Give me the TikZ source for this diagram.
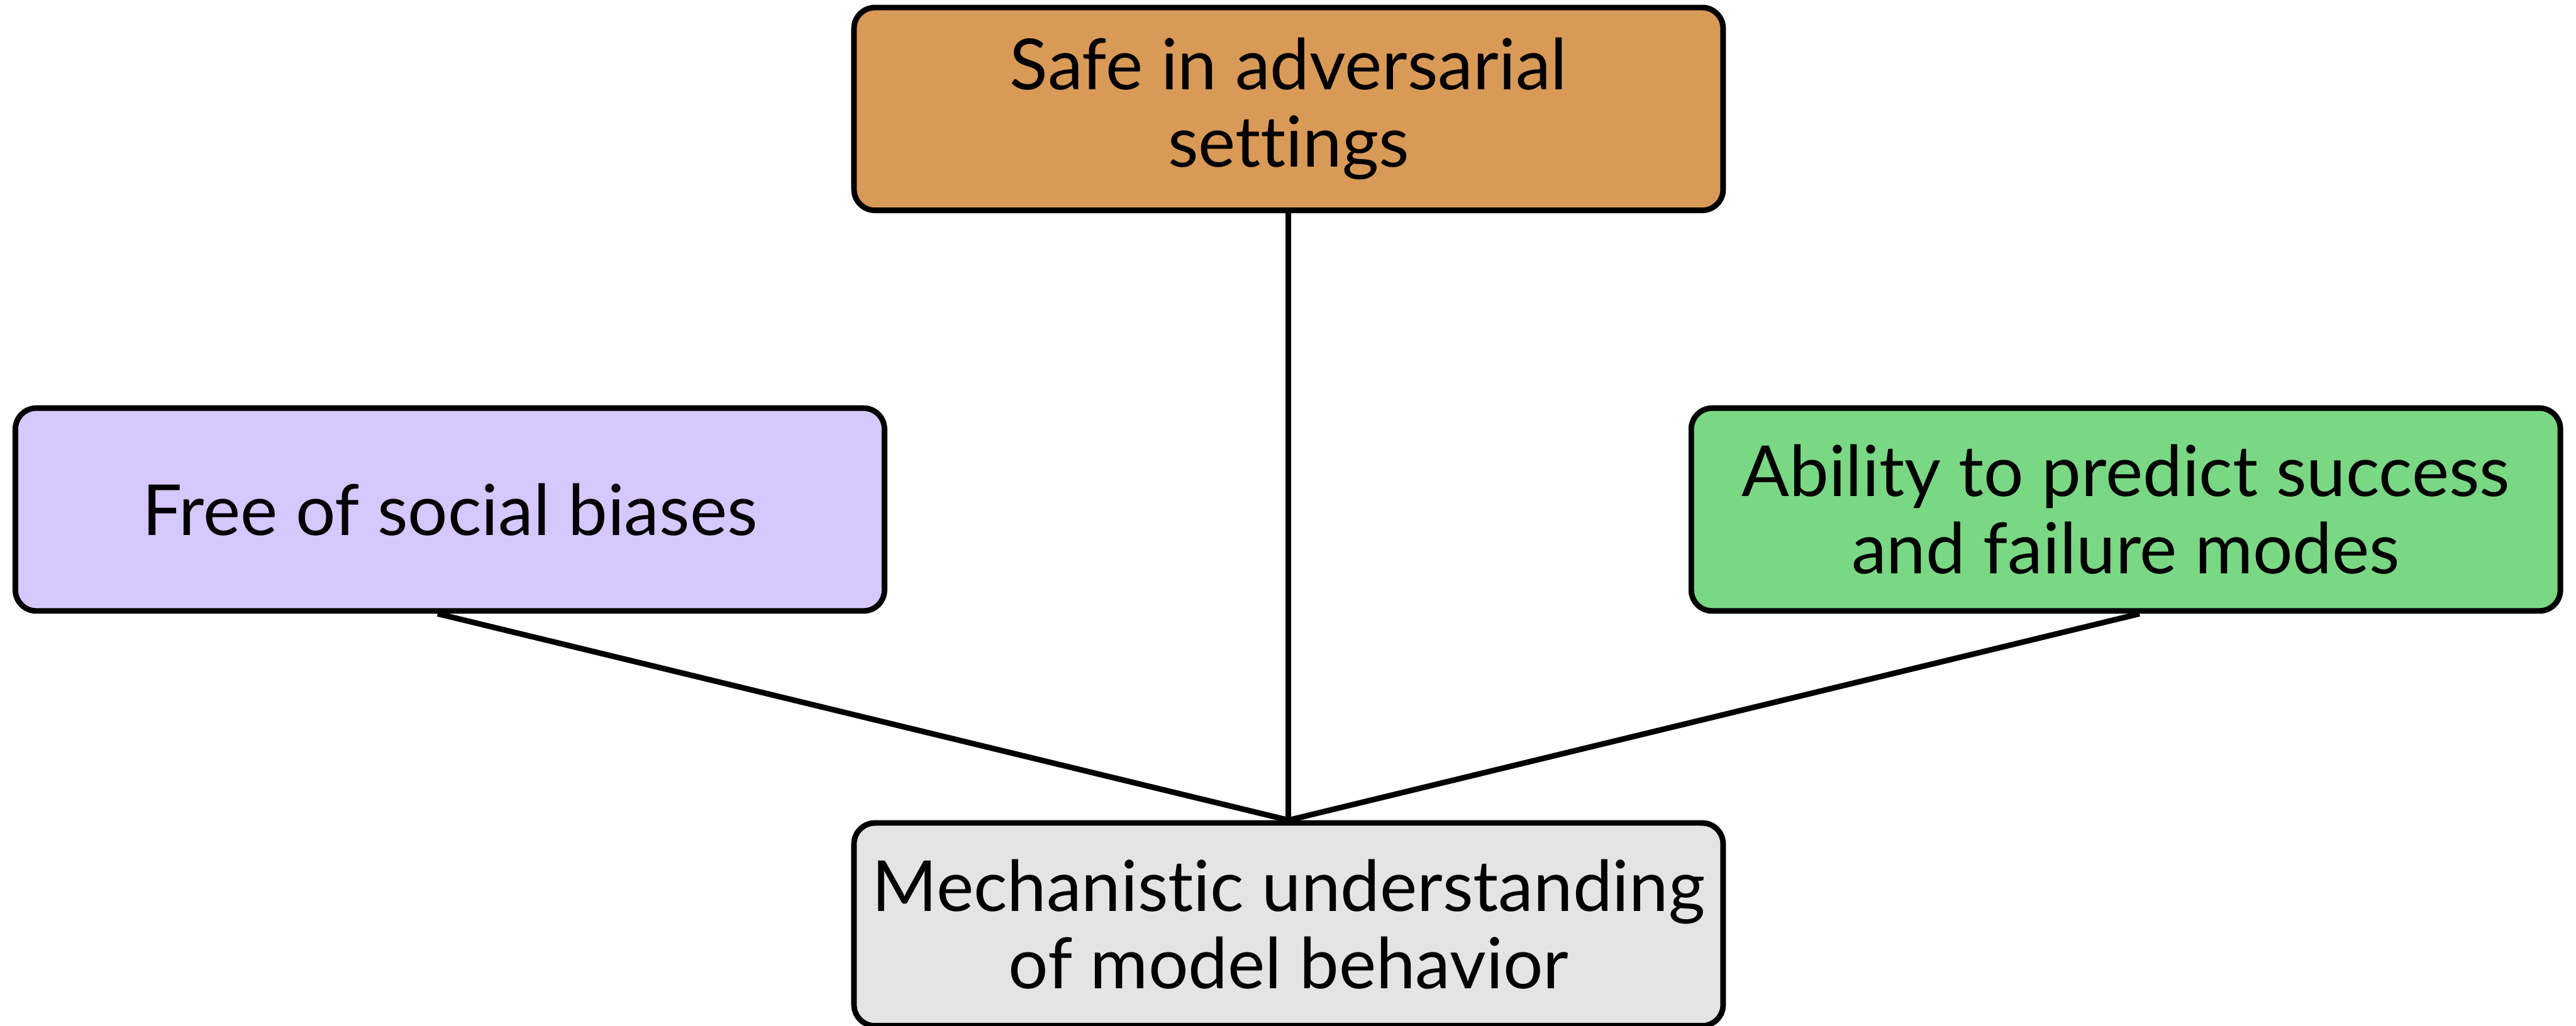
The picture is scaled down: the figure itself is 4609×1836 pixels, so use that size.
\documentclass[tikz,border=0pt]{standalone}
\usepackage{fontspec}
\setmainfont[Ligatures={NoCommon}]{Lato}
\definecolor{boxorange}{RGB}{217,154,88}
\definecolor{boxpurple}{RGB}{213,200,254}
\definecolor{boxgreen}{RGB}{122,216,133}
\definecolor{boxgray}{RGB}{228,228,228}
\begin{document}
\begin{tikzpicture}[x=0.2pt,y=-0.2pt,
  goalbox/.style={draw=black, line width=2pt, rounded corners=7.5pt,
    minimum width=311pt, minimum height=72.6pt, inner sep=0pt,
    align=center, font=\fontsize{25.2}{27.6}\selectfont},
  conn/.style={draw=black, line width=2pt}]
\useasboundingbox (0,0) rectangle (4609,1836);

\node[goalbox, fill=boxorange] (safe) at (2305.5,195) {Safe in adversarial\\settings};
\node[goalbox, fill=boxpurple] (free) at (805,912) {Free of social biases};
\node[goalbox, fill=boxgreen]  (pred) at (3803.5,912) {Ability to predict success\\and failure modes};
\node[goalbox, fill=boxgray]   (mech) at (2305.5,1654.5) {Mechanistic understanding\\of model behavior};

\draw[conn] (safe.south) -- (mech.north);
\draw[conn] ([xshift=-4.4pt]free.south) -- (mech.north);
\draw[conn] ([xshift=4.9pt]pred.south) -- (mech.north);
\end{tikzpicture}
\end{document}
